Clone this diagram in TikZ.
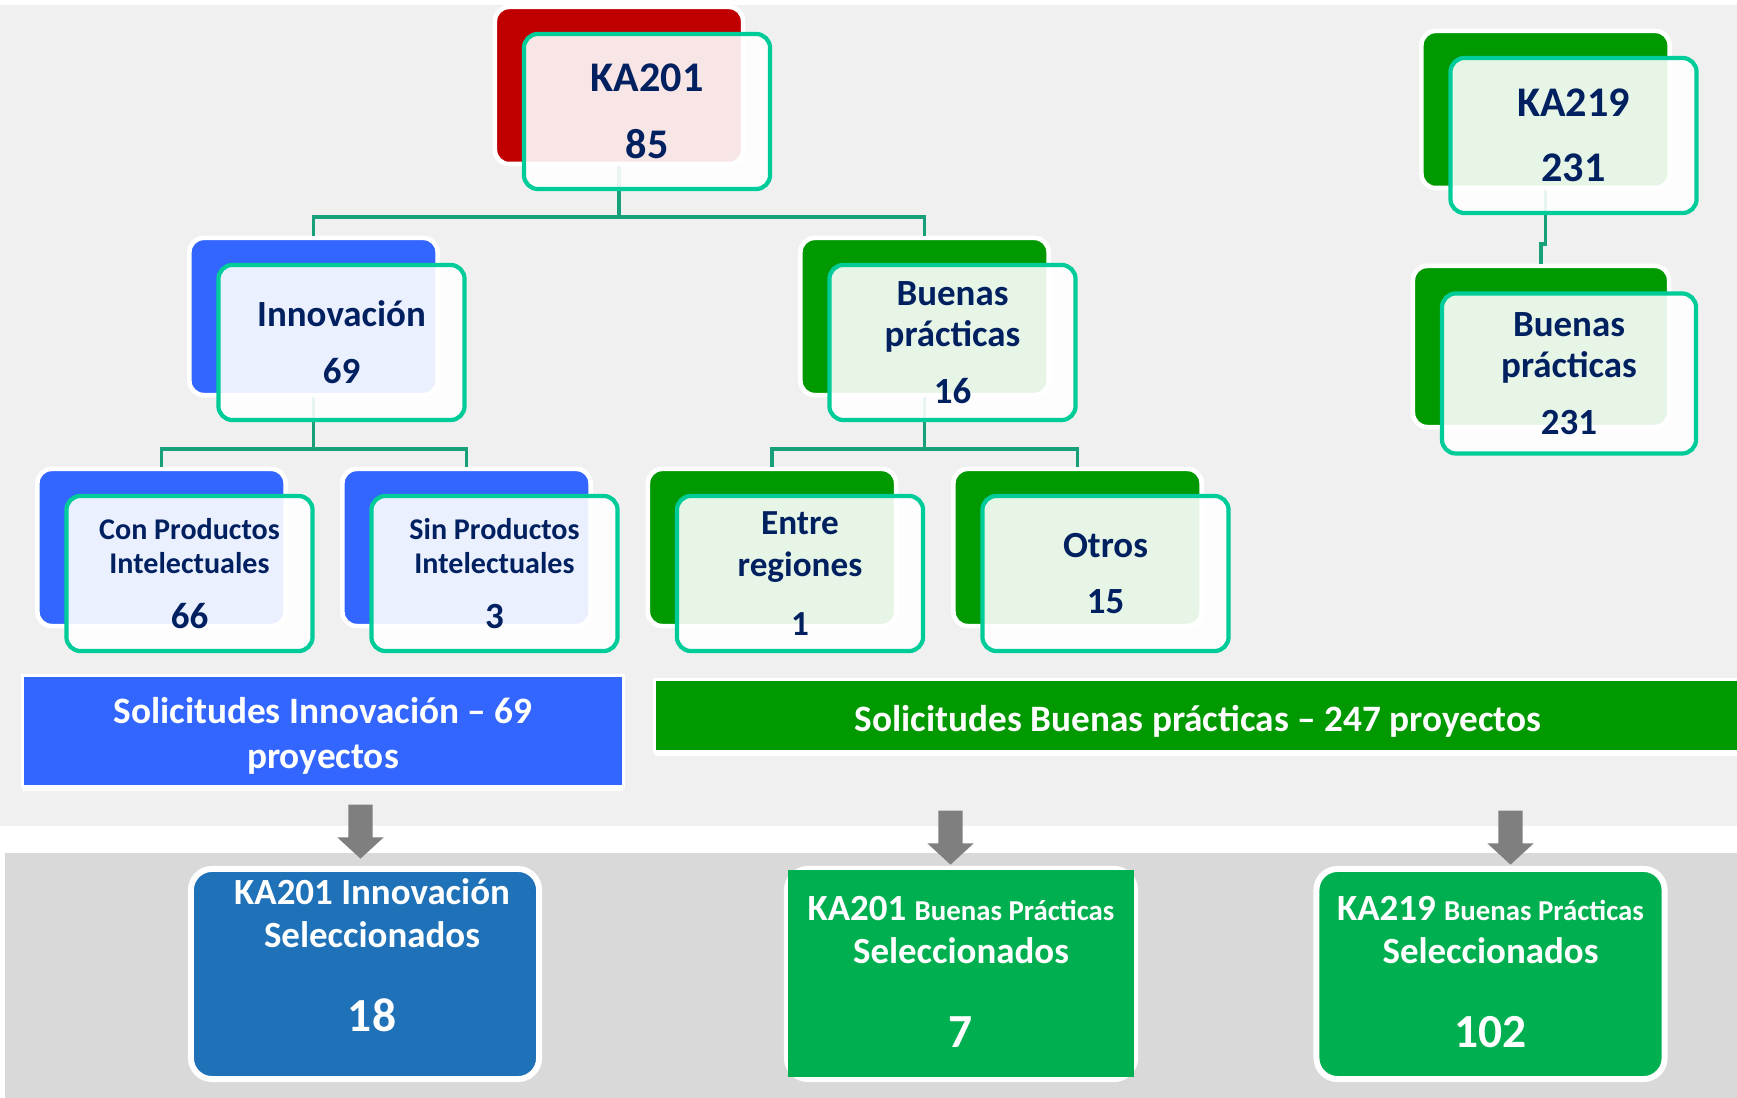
\documentclass[tikz,border=0pt]{standalone}
\usepackage{fontspec}
\setmainfont{Carlito}
\usetikzlibrary{positioning,shapes.arrows,shadows}
\definecolor{navy}{HTML}{002060}
\definecolor{bgtop}{HTML}{F0F0F0}
\definecolor{bgbot}{HTML}{D9D9D9}
\definecolor{redb}{HTML}{C00000}
\definecolor{blueb}{HTML}{3366FF}
\definecolor{greenb}{HTML}{009900}
\definecolor{edge}{HTML}{00CC99}
\definecolor{linkc}{HTML}{17A07A}
\definecolor{selblue}{HTML}{1F71B8}
\definecolor{selgreen}{HTML}{00B050}
\definecolor{arrowgray}{HTML}{7F7F7F}
\tikzset{
  >=latex,
}
\tikzstyle{back}=[draw=white,line width=1.3pt,rounded corners=4pt,minimum width=2.48cm,minimum height=1.57cm]
\tikzstyle{front}=[draw=edge,line width=1.2pt,fill=white,fill opacity=0.9,text opacity=1,rounded corners=4pt,minimum width=2.46cm,minimum height=1.55cm,text=navy,align=center,inner sep=0pt]
\tikzstyle{link}=[draw=linkc,line width=1.1pt]
\tikzstyle{banner}=[draw=white,line width=0.9pt,text=white,font=\fontsize{10.6}{12.8}\selectfont\bfseries,align=center,drop shadow={fill=white,opacity=1,shadow xshift=0pt,shadow yshift=-1.3pt}]
\tikzstyle{garrow}=[single arrow,shape border rotate=270,fill=arrowgray,draw=none,minimum height=0.54cm,inner sep=0.115cm,single arrow head extend=0.11cm,single arrow tip angle=95]
\tikzstyle{selbox}=[draw=white,line width=1.7pt,rounded corners=6pt,minimum width=3.48cm,minimum height=2.1cm]
\tikzstyle{seltext}=[text=white,align=center,font=\fontsize{10.5}{12.3}\selectfont\bfseries]
\newcommand{\selnum}[1]{{\fontsize{13.5}{16}\selectfont #1}}
\newcommand{\smallbp}{\fontsize{8.2}{12.3}\selectfont}

\begin{document}
\begin{tikzpicture}[x=0.01cm,y=-0.01cm]
  \useasboundingbox (0,0) rectangle (1737,1098);
  \fill[white] (0,0) rectangle (1737,1098);
  \fill[bgtop] (0,5) rectangle (1737,826);
  \fill[bgbot] (5,853) rectangle (1737,1098);

  % back boxes
  \node (ka201b) [back,fill=redb] at (619,85.5) {};
  \node (innovb) [back,fill=blueb] at (313.5,316.5) {};
  \node (bpb) [back,fill=greenb] at (924.5,316.5) {};
  \node (conb) [back,fill=blueb] at (161.5,547.5) {};
  \node (sinb) [back,fill=blueb] at (466.5,547.5) {};
  \node (entreb) [back,fill=greenb] at (772,547.5) {};
  \node (otrosb) [back,fill=greenb] at (1077.5,547.5) {};
  \node (ka219b) [back,fill=greenb] at (1545.5,109.5) {};
  \node (bp219b) [back,fill=greenb,minimum width=2.56cm,minimum height=1.61cm] at (1541,346.5) {};

  % tree lines
  \draw[link] (ka201b.south) -- ++(0,51) -| (innovb.north);
  \draw[link] (ka201b.south) -- ++(0,51) -| (bpb.north);
  \draw[link] (innovb.south) -- ++(0,52) -| (conb.north);
  \draw[link] (innovb.south) -- ++(0,52) -| (sinb.north);
  \draw[link] (bpb.south) -- ++(0,52) -| (entreb.north);
  \draw[link] (bpb.south) -- ++(0,52) -| (otrosb.north);
  \draw[link] (ka219b.south) -- ++(0,54) -| (bp219b.north);

  % front boxes
  \node (ka201) [front,font=\fontsize{12}{19}\selectfont\bfseries] at ([shift={(28,26)}]ka201b.center) {KA201\\85};
  \node (innov) [front,font=\fontsize{10.5}{16.2}\selectfont\bfseries] at ([shift={(28,26)}]innovb.center) {Innovación\\69};
  \node (bp) [front,font=\fontsize{10.5}{11.7}\selectfont\bfseries] at ([shift={(28,26)}]bpb.center) {Buenas\\prácticas\\[4.3pt]16};
  \node (con) [front,font=\fontsize{8.55}{9.7}\selectfont\bfseries] at ([shift={(28,26)}]conb.center) {Con Productos\\Intelectuales\\[5.7pt]{\fontsize{10.5}{12}\selectfont 66}};
  \node (sin) [front,font=\fontsize{8.55}{9.7}\selectfont\bfseries] at ([shift={(28,26)}]sinb.center) {Sin Productos\\Intelectuales\\[5.7pt]{\fontsize{10.5}{12}\selectfont 3}};
  \node (entre) [front,font=\fontsize{10}{12}\selectfont\bfseries] at ([shift={(28,26)}]entreb.center) {Entre\\regiones\\[4.5pt]1};
  \node (otros) [front,font=\fontsize{10.5}{16}\selectfont\bfseries] at ([shift={(28,26)}]otrosb.center) {Otros\\15};
  \node (ka219) [front,font=\fontsize{12}{18.5}\selectfont\bfseries] at ([shift={(28,26)}]ka219b.center) {KA219\\231};
  \node (bp219) [front,minimum width=2.54cm,minimum height=1.6cm,font=\fontsize{10.5}{11.7}\selectfont\bfseries] at ([shift={(28,27)}]bp219b.center) {Buenas\\prácticas\\[4.3pt]231};

  % solicitudes
  \node (solInnov) [banner,fill=blueb,minimum width=6.0cm,minimum height=1.04cm] at (323,731) {\rule{0pt}{10.4pt}Solicitudes Innovación – 69\\proyectos};
  \node (solBP) [banner,fill=greenb,minimum width=10.86cm,minimum height=0.72cm] at (1198,715.5) {\rule{0pt}{10.6pt}Solicitudes Buenas prácticas – 247 proyectos};

  \node (arrA) [garrow] at (360.5,826) {};
  \node (arrB) [garrow] at (950.5,832) {};
  \node (arrC) [garrow] at (1510.5,832) {};

  % seleccionados
  \node (selInnov) [selbox,fill=selblue] at (365,974) {};
  \node (selBP) [selbox,fill=selblue] at (961,974) {};
  \fill[selgreen] ([shift={(4,4)}]selBP.north west) rectangle ([shift={(-4,-5)}]selBP.south east);
  \node (sel219) [selbox,fill=selgreen] at (1490.5,974) {};
  \node (selInnovT) [seltext] at ([xshift=0.07cm,yshift=0.185cm]selInnov.center) {KA201 Innovación\\Seleccionados\\[11.6pt]\selnum{18}};
  \node (selBPT) [seltext] at ([yshift=0.02cm]selBP.center) {KA201 {\smallbp Buenas Prácticas}\\Seleccionados\\[11.6pt]\selnum{7}};
  \node (sel219T) [seltext] at ([yshift=0.02cm]sel219.center) {KA219 {\smallbp Buenas Prácticas}\\Seleccionados\\[11.6pt]\selnum{102}};
\end{tikzpicture}
\end{document}
